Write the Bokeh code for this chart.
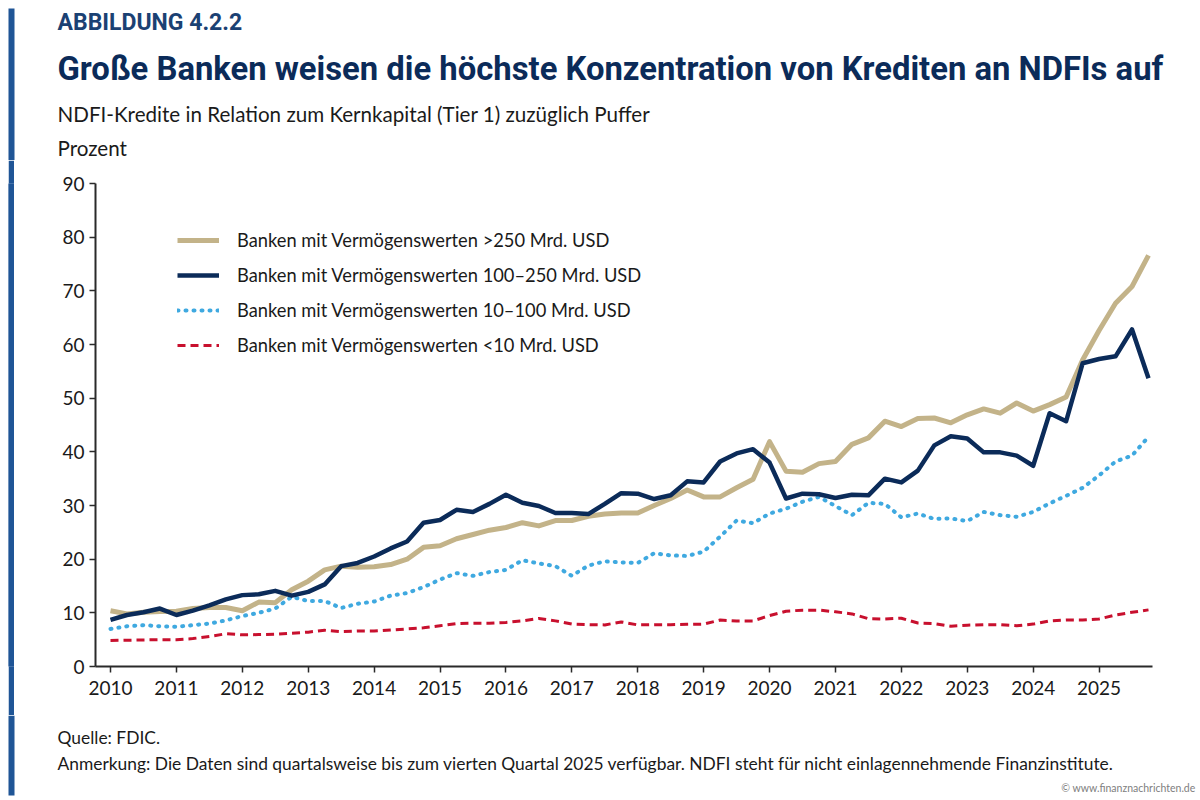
from bokeh.plotting import figure
from bokeh.layouts import column, row
from bokeh.models import Range1d, FixedTicker, Legend, LegendItem, Spacer
from bokeh.core.properties import value
from bokeh.embed import file_html
from bokeh.resources import INLINE

# ---- data: NDFI loans relative to Tier 1 capital plus buffers, percent ----
years = list(range(2010, 2026))
quarters = [f"{y}Q{q}" for y in years for q in (1, 2, 3, 4)]
x = [int(s[:4]) + (int(s[-1]) - 1) / 4 for s in quarters]

gt250 = [10.4, 9.8, 10.1, 10.25, 10.3, 10.8, 11.0, 11.0, 10.4, 12.0,
         11.9, 14.3, 15.9, 18.0, 18.7, 18.5, 18.6, 19.0, 20.0, 22.2,
         22.5, 23.8, 24.6, 25.4, 25.9, 26.8, 26.2, 27.2, 27.2, 28.0,
         28.4, 28.6, 28.6, 30.0, 31.3, 32.9, 31.6, 31.6, 33.3, 34.9,
         41.9, 36.4, 36.2, 37.8, 38.2, 41.4, 42.6, 45.7, 44.7, 46.2,
         46.3, 45.4, 46.9, 48.0, 47.2, 49.1, 47.6, 48.8, 50.2, 57.1,
         62.6, 67.7, 70.8, 76.6]
b100_250 = [8.7, 9.6, 10.1, 10.8, 9.6, 10.4, 11.4, 12.5, 13.3, 13.45,
            14.1, 13.2, 13.9, 15.3, 18.7, 19.3, 20.5, 22.0, 23.3, 26.8,
            27.3, 29.2, 28.8, 30.3, 32.0, 30.5, 29.9, 28.6, 28.6, 28.4,
            30.3, 32.3, 32.2, 31.2, 31.9, 34.5, 34.3, 38.2, 39.7, 40.5,
            38.0, 31.3, 32.2, 32.1, 31.4, 32.0, 31.9, 35.0, 34.3, 36.5,
            41.2, 42.9, 42.5, 39.9, 39.9, 39.3, 37.4, 47.2, 45.7, 56.5,
            57.3, 57.8, 62.8, 53.7]
b10_100 = [7.0, 7.5, 7.7, 7.5, 7.4, 7.7, 8.0, 8.6, 9.4, 10.0,
           10.8, 13.0, 12.2, 12.2, 10.9, 11.7, 12.1, 13.2, 13.7, 14.8,
           16.2, 17.4, 16.9, 17.6, 18.0, 19.8, 19.2, 18.7, 16.9, 18.8,
           19.6, 19.4, 19.3, 21.1, 20.7, 20.6, 21.4, 24.2, 27.2, 26.7,
           28.5, 29.4, 30.7, 31.6, 29.9, 28.2, 30.5, 30.3, 27.8, 28.5,
           27.5, 27.6, 27.1, 28.8, 28.2, 27.9, 28.8, 30.4, 31.8, 33.3,
           35.6, 38.2, 39.3, 42.8]
lt10 = [4.85, 4.9, 4.95, 5.0, 5.0, 5.2, 5.6, 6.1, 5.9, 5.95,
        6.0, 6.2, 6.4, 6.75, 6.5, 6.6, 6.6, 6.8, 7.0, 7.2,
        7.6, 8.0, 8.05, 8.05, 8.2, 8.5, 8.95, 8.5, 7.9, 7.8,
        7.75, 8.3, 7.75, 7.8, 7.8, 7.85, 7.9, 8.65, 8.5, 8.5,
        9.5, 10.3, 10.5, 10.5, 10.2, 9.8, 8.9, 8.85, 9.0, 8.1,
        8.0, 7.5, 7.7, 7.8, 7.8, 7.6, 7.9, 8.5, 8.65, 8.65,
        8.85, 9.6, 10.1, 10.55]
y_ticks = list(range(0, 91, 10))

series_labels = [
    "Banken mit Vermögenswerten >250 Mrd. USD",
    "Banken mit Vermögenswerten 100–250 Mrd. USD",
    "Banken mit Vermögenswerten 10–100 Mrd. USD",
    "Banken mit Vermögenswerten <10 Mrd. USD",
]

# ---- page geometry (pixels) ----
W, H = 1200, 800
HEAD_H = 160            # header strip
FOOT_TOP = 715          # footer strip starts here
MID_H = FOOT_TOP - HEAD_H
BAR_L, BAR_R = 8, 14    # accent bar on the left edge
LEFT_W = 20             # strip to the left of the chart figure
FL, FR, FT, FB = 95, 1152, 183, 666          # chart frame edges on the page
X_FIRST, X_LAST = 110, 1148                   # pixel span of first/last quarter
ACCENT = "#1f5596"
BODY_FONT = "Lato"
HEAD_FONT = "Roboto"


def blank(width, height, y_top, y_bottom):
    """A plain figure whose data units are page pixels (y grows downwards)."""
    f = figure(width=width, height=height, output_backend="svg", toolbar_location=None,
               x_range=Range1d(0, width), y_range=Range1d(y_bottom, y_top),
               x_axis_type=None, y_axis_type=None, min_border=0)
    f.outline_line_color = None
    f.grid.visible = False
    f.background_fill_color = "white"
    f.border_fill_color = "white"
    return f


def write(f, text, cx, cy, size, color="#1a1a1a", font=BODY_FONT, style="normal",
          align="left"):
    f.text(x=[cx], y=[cy], text=[text], text_font=value(font),
           text_font_size=value(f"{size}px"), text_font_style=style,
           text_color=color, text_align=align, text_baseline="middle")


# ---- header ----
head = blank(W, HEAD_H, 0, HEAD_H)
head.quad(left=[BAR_L], right=[BAR_R], top=[8], bottom=[HEAD_H], fill_color=ACCENT,
          line_color=None)
write(head, "ABBILDUNG 4.2.2", 57, 22, 23, color="#1b4173", font=HEAD_FONT, style="bold")
write(head, "Große Banken weisen die höchste Konzentration von Krediten an NDFIs auf",
      57, 68, 32.8, color="#0b2b59", font=HEAD_FONT, style="bold")
write(head, "NDFI-Kredite in Relation zum Kernkapital (Tier 1) zuzüglich Puffer", 57, 113, 20.6)
write(head, "Prozent", 57, 147, 20.6)

# ---- accent bar beside the chart (a narrow solid strip) ----
side = figure(width=BAR_R - BAR_L, height=MID_H, output_backend="svg",
              toolbar_location=None, x_range=Range1d(0, 1), y_range=Range1d(0, 1),
              x_axis_type=None, y_axis_type=None, min_border=0)
side.outline_line_color = None
side.grid.visible = False
side.background_fill_color = ACCENT
side.border_fill_color = ACCENT
side.quad(left=[0], right=[1], top=[1], bottom=[0], fill_color=ACCENT, line_color=None)

# ---- chart ----
ppy = (X_LAST - X_FIRST) / (x[-1] - x[0])
x0 = x[0] - (X_FIRST - FL) / ppy
x1 = x[-1] + (FR - X_LAST) / ppy

p = figure(width=W - LEFT_W, height=MID_H, output_backend="svg",
           toolbar_location=None, x_range=Range1d(x0, x1), y_range=Range1d(0, 90),
           min_border_left=FL - LEFT_W, min_border_right=W - FR,
           min_border_top=FT - HEAD_H, min_border_bottom=FOOT_TOP - FB)
p.outline_line_color = None
p.grid.visible = False
p.background_fill_color = "white"
p.border_fill_color = "white"

AXIS_COLOR = "#2a2a2a"
for ax in (p.xaxis[0], p.yaxis[0]):
    ax.axis_line_width = 2
    ax.axis_line_color = AXIS_COLOR
    ax.major_tick_line_color = AXIS_COLOR
    ax.major_tick_line_width = 1.5
    ax.major_tick_in = 0
    ax.major_tick_out = 6
    ax.minor_tick_line_color = None
    ax.major_label_text_font = BODY_FONT
    ax.major_label_text_font_size = "19px"
    ax.major_label_text_color = "#1a1a1a"
p.xaxis.ticker = FixedTicker(ticks=years)
p.yaxis.ticker = FixedTicker(ticks=y_ticks)
p.xaxis.major_label_standoff = 8
p.yaxis.major_label_standoff = 5

r_small = p.line(x, lt10, line_color="#c8102e", line_width=3, line_dash="8 5")
r_mid = p.line(x, b10_100, line_color="#3fa9e0", line_width=4, line_dash="1 7",
               line_cap="round")
r_large = p.line(x, gt250, line_color="#c3b389", line_width=5, line_join="round")
r_upper = p.line(x, b100_250, line_color="#0b2b59", line_width=4.5, line_join="round")

legend = Legend(items=[LegendItem(label=series_labels[0], renderers=[r_large]),
                       LegendItem(label=series_labels[1], renderers=[r_upper]),
                       LegendItem(label=series_labels[2], renderers=[r_mid]),
                       LegendItem(label=series_labels[3], renderers=[r_small])],
                location=(82, 310), orientation="vertical",
                glyph_width=42, glyph_height=20, label_height=20, spacing=13,
                label_standoff=18, padding=0, margin=0,
                border_line_color=None, background_fill_alpha=0,
                label_text_font=BODY_FONT, label_text_font_size="18.3px",
                label_text_color="#1a1a1a")
p.add_layout(legend)

# ---- footer ----
foot = blank(W, H - FOOT_TOP, FOOT_TOP, H)
foot.quad(left=[BAR_L], right=[BAR_R], top=[FOOT_TOP], bottom=[795], fill_color=ACCENT,
          line_color=None)
write(foot, "Quelle: FDIC.", 57, 737, 17.4)
write(foot, "Anmerkung: Die Daten sind quartalsweise bis zum vierten Quartal 2025 verfügbar. "
            "NDFI steht für nicht einlagennehmende Finanzinstitute.", 57, 763, 17.4)
write(foot, "© www.finanznachrichten.de", 1195, 787, 10.5, color="#808080", align="right")

middle = row(Spacer(width=BAR_L, height=MID_H), side,
             Spacer(width=LEFT_W - BAR_R, height=MID_H), p, spacing=0)
page = column(head, middle, foot, spacing=0)
open("out.html", "w").write(file_html(page, INLINE))
